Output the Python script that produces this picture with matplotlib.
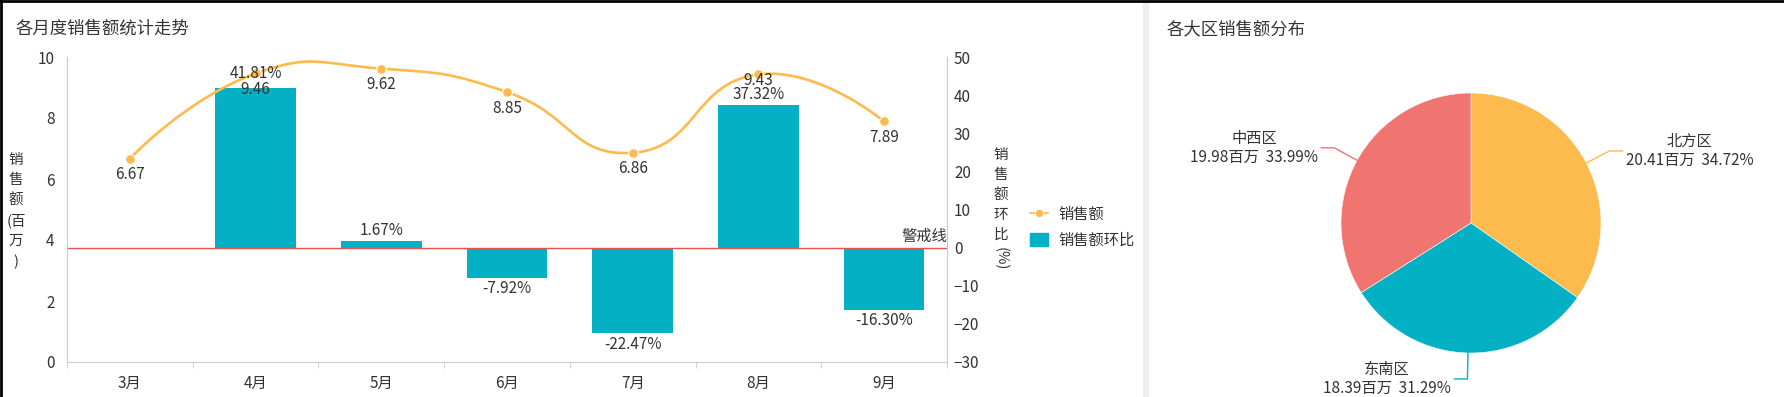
import numpy as np
import matplotlib
matplotlib.use('Agg')
import matplotlib.pyplot as plt
from matplotlib.path import Path
from matplotlib.patches import PathPatch, Rectangle
from matplotlib.lines import Line2D

plt.rcParams['font.family'] = ['Noto Sans CJK SC', 'DejaVu Sans']

# data
months = ['3月', '4月', '5月', '6月', '7月', '8月', '9月']
sales = [6.67, 9.46, 9.62, 8.85, 6.86, 9.43, 7.89]            # 百万
mom = [np.nan, 41.81, 1.67, -7.92, -22.47, 37.32, -16.30]      # %
regions = ['北方区', '东南区', '中西区']
region_sales = [20.41, 18.39, 19.98]

YELLOW = '#FDBA4D'
TEAL = '#04B0C3'
SALMON = '#F07470'
RED = '#E8514C'
TXT = '#333333'
AXC = '#CCCCCC'
FS = 11

W, H = 1784, 397
fig = plt.figure(figsize=(W / 100, H / 100), dpi=100)


def rect(l, t, r, b):
    return [l / W, 1 - b / H, (r - l) / W, (b - t) / H]


# ---- left chart ----
ax = fig.add_axes(rect(67, 57, 947, 362))
ax2 = ax.twinx()
ax.set_zorder(ax2.get_zorder() + 1)
ax.patch.set_visible(False)

x = np.arange(len(months))
ax.set_xlim(-0.5, len(months) - 0.5)
ax.set_ylim(0, 10)
ax2.set_ylim(-30, 50)
ax.set_yticks(np.arange(0, 11, 2))
ax2.set_yticks(np.arange(-30, 51, 10))
ax.set_xticks(x)
ax.set_xticklabels(months)
ax.set_xticks(np.arange(-0.5, len(months), 1), minor=True)

for a in (ax, ax2):
    for s in a.spines.values():
        s.set_color(AXC)
    a.spines['top'].set_visible(False)
ax.spines['right'].set_visible(False)
ax2.spines['left'].set_visible(False)
ax2.spines['bottom'].set_visible(False)

ax.tick_params(axis='y', length=0, pad=9, labelsize=FS, labelcolor=TXT)
ax2.tick_params(axis='y', length=0, pad=5, labelsize=FS, labelcolor=TXT)
ax.tick_params(axis='x', which='major', length=0, pad=9, labelsize=FS, labelcolor=TXT)
ax.tick_params(axis='x', which='minor', length=4, color=AXC)

bars = ax2.bar(x, mom, width=0.64, color=TEAL, zorder=2)
bar_pad = [11, 15, 11, 11, 11, 11, 11]
for xi, v, p in zip(x, mom, bar_pad):
    if np.isnan(v):
        continue
    off = p if v >= 0 else -p
    ax.annotate(f'{v:.2f}%', (xi, v), xycoords=ax2.transData, xytext=(0, off),
                textcoords='offset pixels', ha='center', va='center',
                fontsize=FS, color=TXT, zorder=7)

ax2.axhline(0, color=RED, lw=1, zorder=3)
ax2.text(len(months) - 0.5, 0.8, '警戒线', ha='right', va='bottom', fontsize=FS,
         color=TXT)

# smoothed line (bezier, echarts-like)
bbox = ax.get_position()
sx = bbox.width * W / (len(months))
sy = bbox.height * H / 10.0


def smooth_path(xs, ys, k=0.5):
    p = np.column_stack([np.asarray(xs, float) * sx, np.asarray(ys, float) * sy])
    n = len(p)
    cin = p.copy()
    cout = p.copy()
    for i in range(1, n - 1):
        v = (p[i + 1] - p[i - 1]) * k
        d0 = np.hypot(*(p[i] - p[i - 1]))
        d1 = np.hypot(*(p[i + 1] - p[i]))
        r = d1 / (d0 + d1)
        cin[i] = p[i] - v * (1 - r)
        cout[i] = p[i] + v * r
    verts = [p[0]]
    codes = [Path.MOVETO]
    for i in range(n - 1):
        verts += [cout[i], cin[i + 1], p[i + 1]]
        codes += [Path.CURVE4] * 3
    return Path(np.array(verts) / [sx, sy], codes)


ax.add_patch(PathPatch(smooth_path(x, sales), fill=False, ec=YELLOW, lw=1.9, zorder=4))
ax.plot(x, sales, 'o', color=YELLOW, ms=7, mec='white', mew=0.8, zorder=5)
lab_off = [-16, -16, -16, -16, -16, -6, -16]
for xi, v, o in zip(x, sales, lab_off):
    ax.annotate(f'{v:.2f}', (xi, v), xytext=(0, o), textcoords='offset pixels',
                ha='center', va='center', fontsize=FS, color=TXT, zorder=6)

# axis names
fig.text(16 / W, 1 - 211 / H, '销\n售\n额\n(百\n万\n)', ha='center', va='center',
         fontsize=10.5, color=TXT, linespacing=1.55)
fig.text(1001 / W, 1 - 195 / H, '销\n售\n额\n环\n比', ha='center', va='center',
         fontsize=10.5, color=TXT, linespacing=1.55)
fig.text(1001 / W, 1 - 259 / H, '(%)', ha='center', va='center', rotation=-90,
         fontsize=10.5, color=TXT)

# legend
h1 = Line2D([], [], color=YELLOW, lw=1.2, marker='o', ms=6, mec='white', mew=0.6)
h2 = Rectangle((0, 0), 1, 1, color=TEAL)
fig.legend([h1, h2], ['销售额', '销售额环比'], loc='upper left',
           bbox_to_anchor=(1022 / W, 1 - 198 / H), frameon=False, fontsize=FS,
           handlelength=1.2, handleheight=1.0, labelspacing=0.6, handletextpad=0.7,
           labelcolor=TXT, borderpad=0)

fig.text(16 / W, 1 - 29 / H, '各月度销售额统计走势', ha='left', va='center',
         fontsize=12.5, color=TXT)

# ---- pie chart ----
fig.text(1167 / W, 1 - 29 / H, '各大区销售额分布', ha='left', va='center',
         fontsize=12.5, color=TXT)
axp = fig.add_axes(rect(1341, 93, 1601, 353))
colors = [YELLOW, TEAL, SALMON]
wedges, _ = axp.pie(region_sales, colors=colors, startangle=90, counterclock=False,
                    radius=1, wedgeprops=dict(lw=0.4, ec='white'))
axp.set_xlim(-1, 1)
axp.set_ylim(-1, 1)
axp.set_aspect('equal')
axp.axis('off')

total = sum(region_sales)
for w, name, val, c in zip(wedges, regions, region_sales, colors):
    ang = np.deg2rad((w.theta1 + w.theta2) / 2)
    ex, ey = np.cos(ang), np.sin(ang)
    side = 1 if ex >= 0 else -1
    p1 = (1.0 * ex, 1.0 * ey)
    p2 = (1.2 * ex, 1.2 * ey)
    p3 = (p2[0] + side * 0.1, p2[1])
    axp.plot([p1[0], p2[0], p3[0]], [p1[1], p2[1], p3[1]], color=c, lw=1, clip_on=False)
    axp.text(p3[0] + side * 0.025, p3[1],
             f'{name}\n{val:.2f}百万  {val / total * 100:.2f}%',
             ha='left' if side > 0 else 'right', va='center', multialignment='center',
             fontsize=FS, color=TXT, linespacing=1.2)

# frame decorations
fig.add_artist(Rectangle((1143 / W, 0), 5 / W, 1, transform=fig.transFigure,
                         color='#EFEFF3', zorder=0))
fig.add_artist(Line2D([0, 1], [1 - 1 / H, 1 - 1 / H], transform=fig.transFigure,
                      color='black', lw=2))
fig.add_artist(Line2D([1 / W, 1 / W], [0, 1], transform=fig.transFigure,
                      color='black', lw=2))

fig.savefig('out.png', dpi=100)
